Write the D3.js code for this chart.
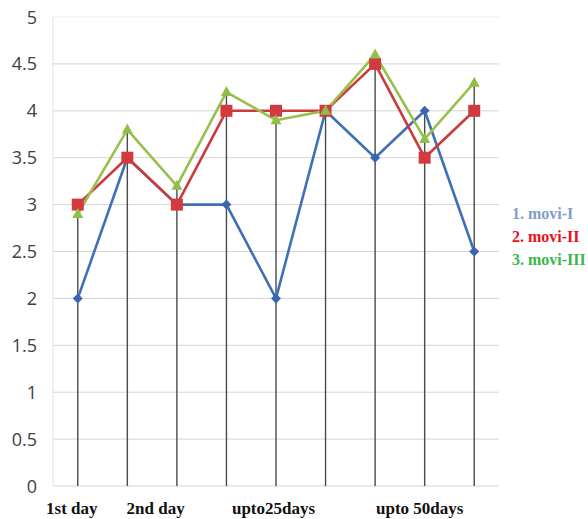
<!DOCTYPE html>
<html><head><meta charset="utf-8">
<script src="https://cdn.jsdelivr.net/npm/d3@7"></script>
<style>body{margin:0;background:#fff}</style>
</head><body>
<svg id="c" width="588" height="519"></svg>
<script>
const categories = ["c1","c2","c3","c4","c5","c6","c7","c8","c9"];
const moviI   = [2, 3.5, 3, 3, 2, 4, 3.5, 4, 2.5];
const moviII  = [3, 3.5, 3, 4, 4, 4, 4.5, 3.5, 4];
const moviIII = [2.9, 3.8, 3.2, 4.2, 3.9, 4, 4.6, 3.7, 4.3];
const yTicks = [0, 0.5, 1, 1.5, 2, 2.5, 3, 3.5, 4, 4.5, 5];
const xLabelTexts = ["1st day", "2nd day", "upto25days", "upto 50days"];
const xLabelAt = [-0.12, 1.57, 3.95, 6.9]; // fractional category positions
const legendTexts = ["1. movi-I", "2. movi-II", "3. movi-III"];

const svg = d3.select("#c");
const L = 53, R = 499, T = 17, B = 486;
const x = d3.scalePoint().domain(d3.range(categories.length)).range([L, R]).padding(0.5);
const y = d3.scaleLinear().domain([0, 5]).range([B, T]);

svg.append("g").selectAll("line").data(yTicks).join("line")
  .attr("x1", L).attr("x2", R)
  .attr("y1", d => y(d)).attr("y2", d => y(d))
  .attr("stroke", d => d === 5 ? "#ececec" : "#d4d4d4").attr("stroke-width", 1);
svg.append("line").attr("x1", L).attr("x2", L).attr("y1", T).attr("y2", B)
  .attr("stroke", "#e0e0e0");

svg.append("g").selectAll("text").data(yTicks).join("text")
  .attr("x", 37).attr("y", d => y(d) + 6.5)
  .attr("text-anchor", "end")
  .attr("font-family", "'Open Sans', 'Noto Sans', sans-serif").attr("font-size", 18)
  .attr("fill", "#404040")
  .text(d => d);

const maxes = categories.map((c, i) => Math.max(moviI[i], moviII[i], moviIII[i]));
svg.append("g").selectAll("line").data(maxes).join("line")
  .attr("x1", (d, i) => x(i)).attr("x2", (d, i) => x(i))
  .attr("y1", y(0)).attr("y2", d => y(d))
  .attr("stroke", "#4a4a4a").attr("stroke-width", 1.4);

const line = d3.line().x((d, i) => x(i)).y(d => y(d));
const series = [
  {vals: moviIII, color: "#98c04c", marker: "tri"},
  {vals: moviII, color: "#cc3b3b", marker: "sq"},
  {vals: moviI, color: "#3f6fb5", marker: "dia"}
];
const order = [series[2], series[1], series[0]];
order.forEach(s => {
  svg.append("path").datum(s.vals).attr("d", line)
    .attr("fill", "none").attr("stroke", s.color).attr("stroke-width", 2.6)
    .attr("stroke-linejoin", "round");
});
order.forEach(s => {
  const g = svg.append("g");
  s.vals.forEach((v, i) => {
    const cx = x(i), cy = y(v);
    if (s.marker === "sq") {
      g.append("rect").attr("x", cx - 6).attr("y", cy - 6).attr("width", 12).attr("height", 12)
        .attr("fill", "#d23a3f");
    } else if (s.marker === "dia") {
      g.append("path").attr("d", `M${cx},${cy-5}L${cx+5},${cy}L${cx},${cy+5}L${cx-5},${cy}Z`)
        .attr("fill", "#3a66ae");
    } else {
      g.append("path").attr("d", `M${cx},${cy-6}L${cx+5.5},${cy+4}L${cx-5.5},${cy+4}Z`)
        .attr("fill", "#8fbf4a");
    }
  });
});

svg.append("g").selectAll("text").data(xLabelTexts).join("text")
  .attr("x", (d, i) => L + (xLabelAt[i] + 0.5) * x.step())
  .attr("y", 514)
  .attr("text-anchor", "middle")
  .attr("font-family", "'Liberation Serif', 'Times New Roman', serif")
  .attr("font-weight", "bold").attr("font-size", 17)
  .attr("fill", "#111")
  .text(d => d);

const legColors = ["#7f9ccc", "#e8101c", "#3cb54a"];
svg.append("g").selectAll("text").data(legendTexts).join("text")
  .attr("x", 512).attr("y", (d, i) => 219 + i * 23)
  .attr("font-family", "'Liberation Serif', 'Times New Roman', serif")
  .attr("font-weight", "bold").attr("font-size", 16)
  .attr("fill", (d, i) => legColors[i])
  .text(d => d);
</script>
</body></html>
